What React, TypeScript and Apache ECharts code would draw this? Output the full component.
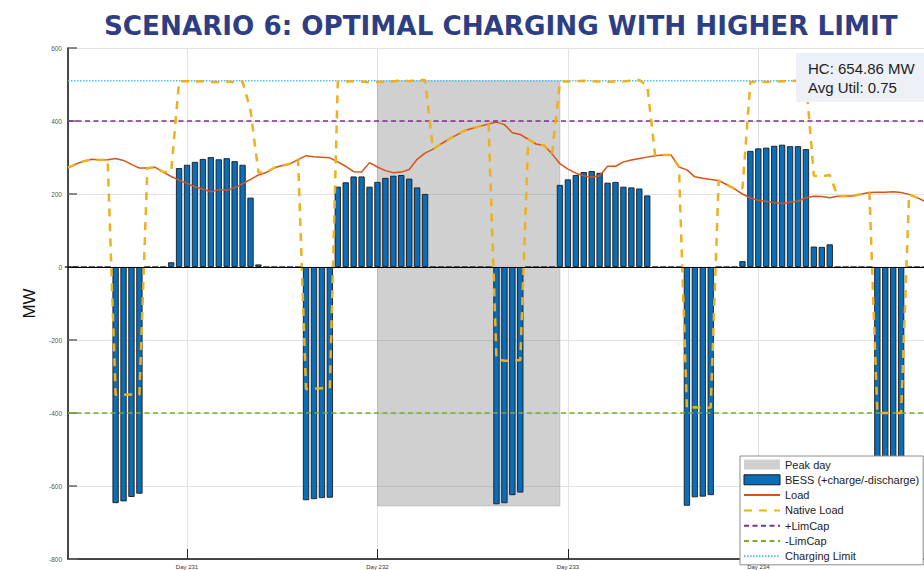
import React, { useEffect, useRef } from "react";
import * as echarts from "echarts";

const TITLE = "SCENARIO 6: OPTIMAL CHARGING WITH HIGHER LIMIT";
const START_DAY = 230;
const START_HOUR = 9;

// hourly values from Day 230 09:00 onwards
const loadMW = [
  272, 282, 290, 295, 293, 294, 297, 292, 281, 271, 271, 273, 260, 248, 238,
  229, 220, 213, 206, 212, 210, 217, 228, 240, 252, 259, 272, 278, 283, 294,
  305, 302, 301, 299, 288, 276, 261, 260, 286, 274, 264, 258, 260, 267, 295,
  312, 323, 337, 350, 362, 374, 380, 386, 392, 397, 390, 368, 363, 350, 337,
  333, 310, 283, 268, 257, 250, 246, 250, 276, 276, 288, 293, 297, 301, 305,
  307, 307, 274, 266, 247, 243, 240, 237, 226, 214, 200, 189, 183, 180, 176,
  174, 178, 180, 190, 194, 193, 190, 194, 194, 195, 200, 204, 205, 205, 206,
  204, 199, 190, 180,
];

const bessMW = [
  0, 0, 0, 0, 0, 0, -647, -642, -630, -621, 0, 0, 0, 13, 271,
  280, 288, 296, 301, 295, 298, 290, 280, 190, 7, 0, 0, 0, 0, 0,
  -639, -636, -633, -632, 220, 232, 248, 248, 220, 233, 244, 250, 252, 242, 218,
  200, 0, 0, 0, 0, 0, 0, 0, 0, -650, -647, -625, -618, 0, 0,
  0, 0, 225, 240, 252, 260, 263, 258, 231, 233, 220, 218, 215, 196, 0,
  0, 0, 0, -654, -631, -629, -625, 0, 0, 0, 16, 318, 325, 327, 332,
  335, 331, 331, 323, 56, 55, 62, 0, 0, 0, 0, 0, -605, -605, -606,
  -604, 0, 0, 0,
];

const nativeLoadMW = [
  272, 282, 290, 295, 293, 294, -350, -350, -349, -350, 271, 273, 260, 261, 509,
  509, 508, 509, 507, 507, 508, 507, 508, 430, 259, 259, 272, 278, 283, 294,
  -334, -334, -332, -333, 508, 508, 509, 508, 506, 507, 508, 508, 512, 509, 513,
  512, 323, 337, 350, 362, 374, 380, 386, 392, -253, -257, -257, -255, 350, 337,
  333, 310, 508, 508, 509, 510, 509, 508, 507, 509, 508, 511, 512, 497, 305,
  307, 307, 274, -388, -384, -386, -385, 237, 226, 214, 216, 507, 508, 507, 508,
  509, 509, 511, 513, 250, 248, 252, 194, 194, 195, 200, 204, -400, -400, -400,
  -400, 199, 190, 180,
];

const LIM_CAP = 400;
const CHARGING_LIMIT = 510;
const HC = 654.86;
const AVG_UTIL = 0.75;
const PEAK_DAY = [232, 232 + 23 / 24];
const X_MIN = 230.375;
const X_MAX = 234.87;
const Y_MIN = -800;
const Y_MAX = 600;
const Y_STEP = 200;

const xOf = (i: number) => START_DAY + (START_HOUR + i) / 24;

export default function App() {
  const ref = useRef<HTMLDivElement>(null);
  useEffect(() => {
    if (!ref.current) return;
    const chart = echarts.init(ref.current, undefined, { renderer: "svg" });
    const sans = "'Liberation Sans', Arial, sans-serif";
    const noSym = { opacity: 0 };
    const option: any = {
      animation: false,
      title: {
        text: TITLE,
        left: 99,
        top: 8,
        textStyle: {
          fontFamily: "'DejaVu Sans', Verdana, sans-serif",
          fontWeight: "bold",
          fontSize: 26.2,
          color: "#2D3E84",
        },
      },
      grid: { left: 68, right: 0, top: 48, bottom: 9, containLabel: false },
      legend: {
        orient: "vertical",
        left: 740,
        top: 456,
        padding: [3, 4, 3, 3],
        itemGap: 4.3,
        itemWidth: 36,
        itemHeight: 10,
        backgroundColor: "#ffffff",
        borderColor: "#8c8c8c",
        borderWidth: 1,
        textStyle: { fontFamily: sans, fontSize: 11, color: "#222" },
        data: [
          { name: "Peak day", icon: "rect", itemStyle: { color: "#d0d0d0", borderWidth: 0 } },
          { name: "BESS (+charge/-discharge)", icon: "rect", itemStyle: { borderWidth: 1, borderColor: "#1b1b1b" } },
          { name: "Load", itemStyle: noSym },
          { name: "Native Load", itemStyle: noSym },
          { name: "+LimCap", itemStyle: noSym },
          { name: "-LimCap", itemStyle: noSym },
          { name: "Charging Limit", itemStyle: noSym },
        ],
      },
      xAxis: {
        type: "value",
        min: X_MIN,
        max: X_MAX,
        splitNumber: 5,
        axisLine: { onZero: false, lineStyle: { color: "#111", width: 1.5 } },
        axisTick: { inside: true, length: 10, lineStyle: { color: "#222", width: 1 } },
        axisLabel: {
          fontFamily: sans,
          fontSize: 6,
          color: "#333",
          margin: 5,
          showMinLabel: false,
          showMaxLabel: false,
          formatter: (v: number) => (Number.isInteger(v) ? "Day " + v : ""),
        },
        splitLine: { show: true, lineStyle: { color: "#e2e2e2", width: 1 } },
      },
      yAxis: {
        type: "value",
        min: Y_MIN,
        max: Y_MAX,
        interval: Y_STEP,
        name: "MW",
        nameLocation: "middle",
        nameGap: 30,
        nameRotate: 90,
        nameTextStyle: { fontFamily: sans, fontSize: 17, color: "#111" },
        axisLine: { show: true, lineStyle: { color: "#111", width: 1.5 } },
        axisTick: { show: true, inside: true, length: 9, lineStyle: { color: "#666", width: 1.5 } },
        axisLabel: { fontFamily: sans, fontSize: 6.5, color: "#555", margin: 6 },
        splitLine: { show: true, lineStyle: { color: "#e2e2e2", width: 1 } },
      },
      series: [
        {
          name: "Peak day",
          type: "custom",
          z: 1,
          silent: true,
          itemStyle: { color: "rgba(120,120,120,0.35)" },
          data: [[PEAK_DAY[0], PEAK_DAY[1], -HC, CHARGING_LIMIT]],
          encode: { x: [0, 1], y: [2, 3] },
          renderItem: (_p: any, api: any) => {
            const a = api.coord([api.value(0), api.value(3)]);
            const b = api.coord([api.value(1), api.value(2)]);
            return {
              type: "rect",
              shape: { x: a[0], y: a[1], width: b[0] - a[0], height: b[1] - a[1] },
              style: { fill: "rgba(120,120,120,0.35)", stroke: "rgba(120,120,120,0.25)", lineWidth: 1 },
            };
          },
        },
        {
          name: "BESS (+charge/-discharge)",
          type: "bar",
          z: 2,
          barWidth: 6.3,
          itemStyle: { color: "#0A6DB8", borderColor: "#1b1b1b", borderWidth: 0.9 },
          data: bessMW.map((v, i) => [xOf(i), v]),
          markLine: {
            silent: true,
            symbol: "none",
            label: { show: false },
            lineStyle: { color: "#000", width: 1, type: "solid" },
            data: [{ yAxis: 0 }],
          },
        },
        {
          name: "Load",
          type: "line",
          z: 3,
          symbol: "none",
          lineStyle: { color: "#D95319", width: 1.5 },
          itemStyle: { color: "#D95319" },
          data: loadMW.map((v, i) => [xOf(i), v]),
        },
        {
          name: "Native Load",
          type: "line",
          z: 4,
          symbol: "none",
          lineStyle: { color: "#EDB120", width: 2.5, type: [8, 7] },
          itemStyle: { color: "#EDB120" },
          data: nativeLoadMW.map((v, i) => [xOf(i), v]),
        },
        {
          name: "+LimCap",
          type: "line",
          z: 3,
          symbol: "none",
          lineStyle: { color: "#7E2F8E", width: 1.5, type: [5, 3.5] },
          itemStyle: { color: "#7E2F8E" },
          data: [[X_MIN, LIM_CAP], [X_MAX, LIM_CAP]],
        },
        {
          name: "-LimCap",
          type: "line",
          z: 3,
          symbol: "none",
          lineStyle: { color: "#77AC30", width: 1.5, type: [5, 3.5] },
          itemStyle: { color: "#77AC30" },
          data: [[X_MIN, -LIM_CAP], [X_MAX, -LIM_CAP]],
        },
        {
          name: "Charging Limit",
          type: "line",
          z: 3,
          symbol: "none",
          lineStyle: { color: "#4DBEEE", width: 1.5, type: [1.5, 1.5] },
          itemStyle: { color: "#4DBEEE" },
          data: [[X_MIN, CHARGING_LIMIT], [X_MAX, CHARGING_LIMIT]],
        },
      ],
      graphic: [
        {
          type: "rect",
          z: 100,
          shape: { x: 796, y: 53, width: 140, height: 49 },
          style: { fill: "#EDF0F7" },
        },
        {
          type: "text",
          z: 101,
          x: 808,
          y: 68,
          style: {
            text: "HC: " + HC.toFixed(2) + " MW",
            font: "15px 'Liberation Sans', Arial, sans-serif",
            fill: "#1e1e1e",
            verticalAlign: "middle",
          },
        },
        {
          type: "text",
          z: 101,
          x: 808,
          y: 87,
          style: {
            text: "Avg Util: " + AVG_UTIL.toFixed(2),
            font: "15px 'Liberation Sans', Arial, sans-serif",
            fill: "#1e1e1e",
            verticalAlign: "middle",
          },
        },
      ],
    };
    chart.setOption(option);
    return () => chart.dispose();
  }, []);
  return (
    <div
      ref={ref}
      style={{ position: "absolute", left: 0, top: 0, width: 924, height: 570, background: "#fff" }}
    />
  );
}
